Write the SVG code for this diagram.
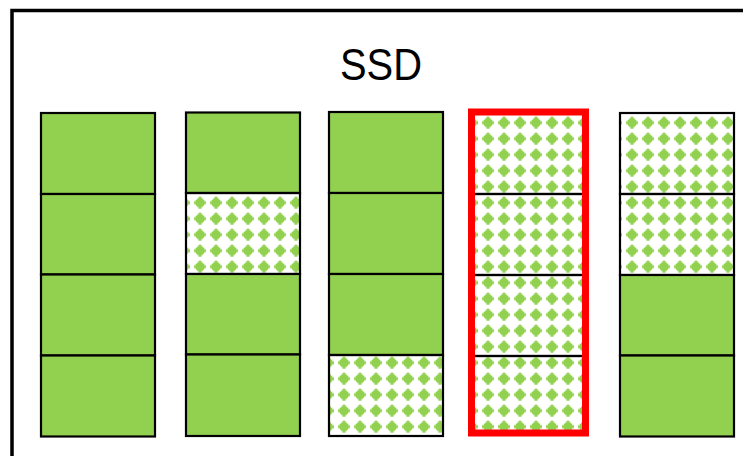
<svg xmlns="http://www.w3.org/2000/svg" width="743" height="456" viewBox="0 0 743 456">
<defs>
<pattern id="dots" patternUnits="userSpaceOnUse" x="0" y="2.7" width="16" height="16">
<g fill="#92D050">
<rect x="2" y="6.5" width="12" height="3"/>
<rect x="6.5" y="2" width="3" height="12"/>
<rect x="3.8" y="5" width="8.4" height="6"/>
<rect x="5" y="3.8" width="6" height="8.4"/>
</g>
</pattern>
<style>
.frame{fill:none;stroke:#000;stroke-width:3.5}
.solid{fill:#92D050;stroke:#000;stroke-width:2.2}
.hatch{fill:url(#dots);stroke:#000;stroke-width:2.2}
.hl{fill:none;stroke:#FF0000;stroke-width:7}
.title{font-family:"Liberation Sans",Arial,sans-serif;font-size:45px;fill:#000}
</style>
</defs>
<rect x="0" y="0" width="743" height="456" fill="#fff"/>
<rect class="frame" x="12" y="10.5" width="800" height="500"/>
<text class="title" x="381" y="80" text-anchor="middle" textLength="82" lengthAdjust="spacingAndGlyphs">SSD</text>
<g id="block1">
<rect class="solid" x="41" y="113" width="114" height="81"/>
<rect class="solid" x="41" y="194" width="114" height="80.5"/>
<rect class="solid" x="41" y="274.5" width="114" height="81"/>
<rect class="solid" x="41" y="355.5" width="114" height="81"/>
</g>
<g id="block2">
<rect class="solid" x="186" y="112.5" width="114" height="80.5"/>
<rect class="hatch" x="186" y="193" width="114" height="81"/>
<rect class="solid" x="186" y="274" width="114" height="80.5"/>
<rect class="solid" x="186" y="354.5" width="114" height="81.5"/>
</g>
<g id="block3">
<rect class="solid" x="329" y="112" width="114" height="81"/>
<rect class="solid" x="329" y="193" width="114" height="81"/>
<rect class="solid" x="329" y="274" width="114" height="81"/>
<rect class="hatch" x="329" y="355" width="114" height="81"/>
</g>
<g id="block4">
<rect class="hatch" x="471.5" y="112" width="114" height="82"/>
<rect class="hatch" x="471.5" y="194" width="114" height="81"/>
<rect class="hatch" x="471.5" y="275" width="114" height="81"/>
<rect class="hatch" x="471.5" y="356" width="114" height="77"/>
<rect class="hl" x="471.5" y="112" width="114" height="321"/>
</g>
<g id="block5">
<rect class="hatch" x="620" y="113" width="114" height="81"/>
<rect class="hatch" x="620" y="194" width="114" height="81"/>
<rect class="solid" x="620" y="275" width="114" height="80.5"/>
<rect class="solid" x="620" y="355.5" width="114" height="81"/>
</g>
</svg>
